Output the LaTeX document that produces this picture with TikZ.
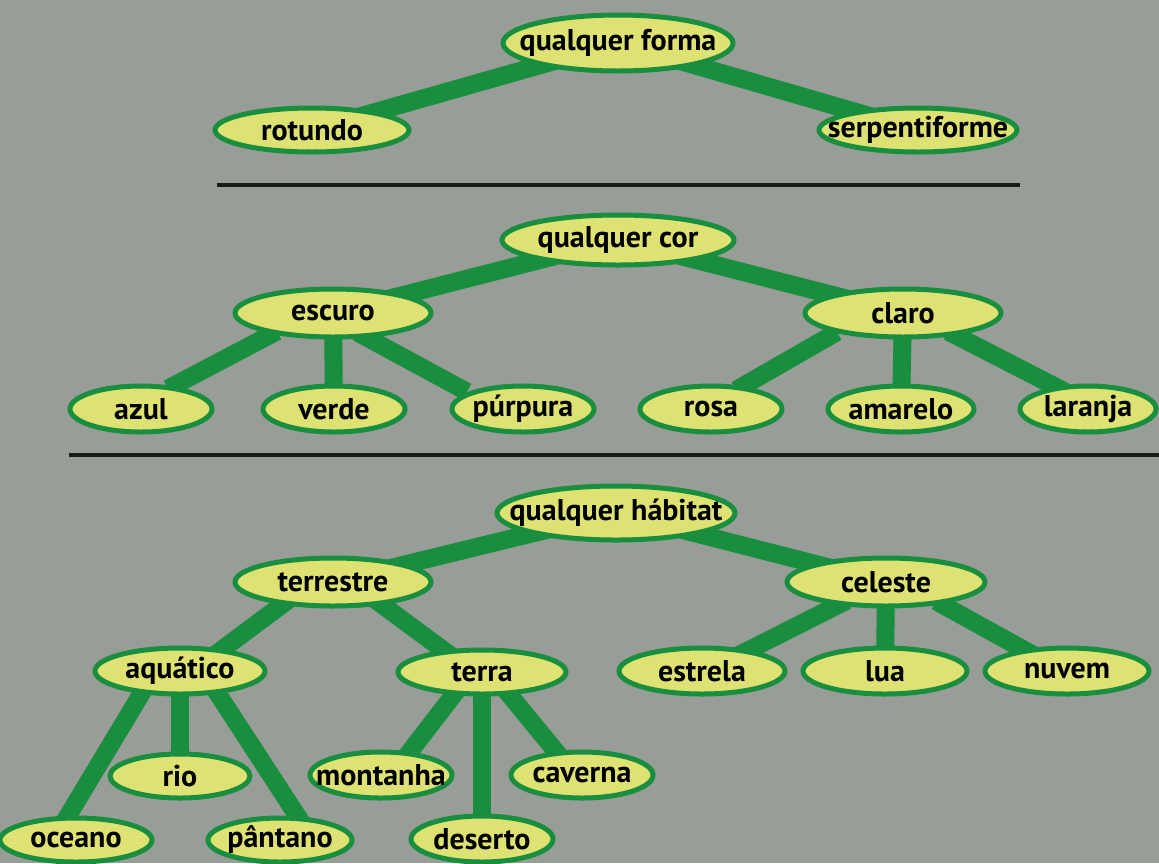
\documentclass[tikz,border=0pt]{standalone}
\usepackage{fontspec}
\setmainfont{PT Sans}
\usetikzlibrary{shapes.geometric,calc,shadows}
\definecolor{bggray}{RGB}{152,157,151}
\definecolor{edgegreen}{RGB}{24,142,62}
\definecolor{nodefill}{RGB}{222,226,114}
\definecolor{shadowblue}{RGB}{50,140,215}
\definecolor{rulecol}{RGB}{25,25,25}
\newcommand\lbl[1]{\makebox[0pt]{#1}}
\pgfdeclarelayer{bglayer}
\pgfdeclarelayer{edgelayer}
\pgfsetlayers{bglayer,edgelayer,main}
\tikzset{
  nd/.style={ellipse, draw=edgegreen, line width=5pt, fill=nodefill,
    inner sep=0pt, font=\fontsize{30}{34}\selectfont\bfseries, text=black,
    drop shadow={shadow xshift=1.6pt, shadow yshift=-1.6pt, fill=shadowblue, opacity=1}},
  edge/.style={draw=edgegreen, line width=18pt, shorten <=-8pt, shorten >=-8pt},
  rulel/.style={draw=rulecol, line width=3.5pt}
}
\begin{document}
\begin{tikzpicture}[x=1pt,y=-1pt]
\begin{pgfonlayer}{bglayer}
\fill[bggray] (0,0) rectangle (1159,863);
\end{pgfonlayer}
\useasboundingbox (0,0) rectangle (1159,863);
% tree 1
\node[nd, minimum width=230pt, minimum height=56pt] (forma) at (618,43) {\lbl{qualquer forma}};
\node[nd, minimum width=194pt, minimum height=44pt] (rot) at (312,130) {\lbl{rotundo}};
\node[nd, minimum width=198pt, minimum height=44pt] (serp) at (918,130) {\lbl{serpentiforme}};
% rule 1
\coordinate (r1a) at (217,185);
\coordinate (r1b) at (1020,185);
\draw[rulel] (r1a) -- (r1b);
% tree 2
\node[nd, minimum width=232pt, minimum height=50pt] (cor) at (618,240) {\lbl{qualquer cor}};
\node[nd, minimum width=196pt, minimum height=48pt] (esc) at (333,313) {\lbl{escuro}};
\node[nd, minimum width=196pt, minimum height=48pt] (cla) at (903,313) {\lbl{claro}};
\node[nd, minimum width=142pt, minimum height=46pt] (azul) at (141,409) {\lbl{azul}};
\node[nd, minimum width=142pt, minimum height=46pt] (verde) at (334,409) {\lbl{verde}};
\node[nd, minimum width=142pt, minimum height=46pt] (purp) at (523,409) {\lbl{púrpura}};
\node[nd, minimum width=142pt, minimum height=46pt] (rosa) at (711,409) {\lbl{rosa}};
\node[nd, minimum width=146pt, minimum height=46pt] (amar) at (901,409) {\lbl{amarelo}};
\node[nd, minimum width=136pt, minimum height=46pt] (lar) at (1088,409) {\lbl{laranja}};
% rule 2
\coordinate (r2a) at (69,455);
\coordinate (r2b) at (1159,455);
\draw[rulel] (r2a) -- (r2b);
% tree 3
\node[nd, minimum width=238pt, minimum height=54pt] (hab) at (616,513) {\lbl{qualquer hábitat}};
\node[nd, minimum width=196pt, minimum height=48pt] (terr) at (333,582) {\lbl{terrestre}};
\node[nd, minimum width=198pt, minimum height=48pt] (cel) at (886,582) {\lbl{celeste}};
\node[nd, minimum width=170pt, minimum height=46pt] (aq) at (180,671) {\lbl{aquático}};
\node[nd, minimum width=168pt, minimum height=44pt] (terra) at (482,672) {\lbl{terra}};
\node[nd, minimum width=166pt, minimum height=46pt] (estr) at (702,671) {\lbl{estrela}};
\node[nd, minimum width=164pt, minimum height=46pt] (lua) at (885,671) {\lbl{lua}};
\node[nd, minimum width=164pt, minimum height=46pt] (nuv) at (1067,671) {\lbl{nuvem}};
\node[nd, minimum width=140pt, minimum height=44pt] (rio) at (180,776) {\lbl{rio}};
\node[nd, minimum width=142pt, minimum height=46pt] (mont) at (381,775) {\lbl{montanha}};
\node[nd, minimum width=142pt, minimum height=46pt] (cav) at (582,775) {\lbl{caverna}};
\node[nd, minimum width=152pt, minimum height=44pt] (oce) at (76,840) {\lbl{oceano}};
\node[nd, minimum width=144pt, minimum height=44pt] (pant) at (280,840) {\lbl{pântano}};
\node[nd, minimum width=142pt, minimum height=46pt] (des) at (482,839) {\lbl{deserto}};
% connectors
\begin{pgfonlayer}{edgelayer}
\draw[edge] (forma.center) -- (rot.center);
\draw[edge] (forma.center) -- (serp.center);
\draw[edge] (cor.center) -- (esc.center);
\draw[edge] (cor.center) -- (cla.center);
\draw[edge] ($(esc)+(-63,22)$) -- ($(azul)+(34,-24)$);
\draw[edge] (esc.center) -- (verde.center);
\draw[edge] ($(esc)+(31,23)$) -- ($(purp)+(-63,-21)$);
\draw[edge] ($(cla)+(-73,23)$) -- ($(rosa)+(32,-23)$);
\draw[edge] (cla.center) -- (amar.center);
\draw[edge] ($(cla)+(52,22)$) -- ($(lar)+(-30,-21)$);
\draw[edge] (hab.center) -- (terr.center);
\draw[edge] (hab.center) -- (cel.center);
\draw[edge] ($(terr)+(-50,22)$) -- ($(aq)+(40,-20)$);
\draw[edge] ($(terr)+(48,22)$) -- ($(terra)+(-36,-20)$);
\draw[edge] ($(cel)+(-46,22)$) -- ($(estr)+(43,-19)$);
\draw[edge] (cel.center) -- (lua.center);
\draw[edge] ($(cel)+(57,23)$) -- ($(nuv)+(-39,-19)$);
\draw[edge] ($(aq)+(-37,20)$) -- ($(oce)+(-10,-21)$);
\draw[edge] (aq.center) -- (rio.center);
\draw[edge] ($(aq)+(36,20)$) -- ($(pant)+(20,-20)$);
\draw[edge] ($(terra)+(-27,21)$) -- ($(mont)+(27,-21)$);
\draw[edge] (terra.center) -- (des.center);
\draw[edge] ($(terra)+(26,21)$) -- ($(cav)+(-24,-21)$);
\end{pgfonlayer}
\end{tikzpicture}
\end{document}
